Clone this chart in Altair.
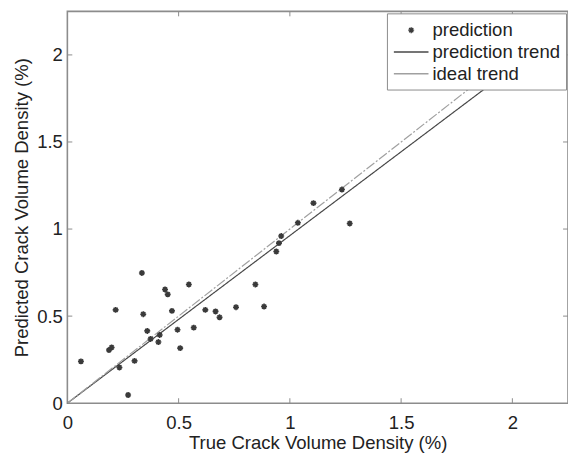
import altair as alt
import pandas as pd

# ---- data ----
true_vals = [0.335, 0.546, 0.439, 0.451, 0.217, 0.341, 0.470, 0.620, 0.666, 0.359,
             0.495, 0.568, 0.374, 0.415, 0.409, 0.199, 0.187, 0.507, 0.061, 0.234,
             0.302, 0.273, 0.939, 0.845, 0.684, 0.758, 0.884, 0.951, 0.961, 1.036,
             1.106, 1.234, 1.269]
pred_vals = [0.748, 0.682, 0.653, 0.625, 0.536, 0.511, 0.530, 0.536, 0.527, 0.415,
             0.422, 0.434, 0.369, 0.392, 0.351, 0.320, 0.305, 0.316, 0.240, 0.205,
             0.243, 0.047, 0.871, 0.682, 0.493, 0.551, 0.555, 0.919, 0.960, 1.036,
             1.149, 1.227, 1.032]
trend_x = [0.0, 2.0]
pred_trend_y = [0.0, 1.925]
ideal_trend_y = [0.0, 2.0]
tick_vals = [0.5, 1.0, 1.5, 2.0]
series_names = ["prediction", "prediction trend", "ideal trend"]
axis_values = [0, 0.5, 1, 1.5, 2]

FONT = "Liberation Sans"
FS = 18.7
W, H = 506, 396
# symbol unit = 10 px (symbolSize 400)
ASTERISK = ("M-0.3,0L0.3,0M0,-0.3L0,0.3M-0.21,-0.21L0.21,0.21"
            "M-0.21,0.21L0.21,-0.21")
LEG_LINE = "M-1.75,0L1.75,0"

pts = pd.DataFrame({"x": true_vals, "y": pred_vals, "series": series_names[0]})
lines = pd.DataFrame({
    "x": trend_x + trend_x,
    "y": pred_trend_y + ideal_trend_y,
    "series": [series_names[1]] * 2 + [series_names[2]] * 2,
})
ticks = pd.DataFrame({"x": tick_vals, "y": tick_vals})

xs = alt.Scale(domain=[0, 2.25], nice=False, zero=False)
ys = alt.Scale(domain=[0, 2.25], nice=False, zero=False)
color_scale = alt.Scale(domain=series_names, range=["#3a3a3a", "#474747", "#a0a0a0"])
shape_scale = alt.Scale(domain=series_names, range=[ASTERISK, LEG_LINE, LEG_LINE])

x_axis = alt.Axis(values=axis_values, format="~g", title="True Crack Volume Density (%)")
y_axis = alt.Axis(values=axis_values, format="~g", title="Predicted Crack Volume Density (%)")

leg = alt.Legend(title=None, orient="none", legendX=323, legendY=2)

trend = alt.Chart(lines).mark_line(strokeWidth=1.2).encode(
    x=alt.X("x:Q", scale=xs, axis=x_axis),
    y=alt.Y("y:Q", scale=ys, axis=y_axis),
    color=alt.Color("series:N", scale=color_scale, legend=leg),
    strokeDash=alt.StrokeDash("series:N",
                              scale=alt.Scale(domain=series_names[1:], range=[[1, 0], [10, 2, 2, 2]]),
                              legend=None),
    detail="series:N",
)

points = alt.Chart(pts).mark_point(size=400, strokeWidth=1.6, filled=False, opacity=1).encode(
    x=alt.X("x:Q", scale=xs),
    y=alt.Y("y:Q", scale=ys),
    color=alt.Color("series:N", scale=color_scale, legend=leg),
    shape=alt.Shape("series:N", scale=shape_scale, legend=leg),
)

tick_color = "#8c8c8c"
tb = alt.Chart(ticks).mark_rule(color=tick_color, strokeWidth=1).encode(
    x=alt.X("x:Q", scale=xs), y=alt.value(H), y2=alt.value(H - 5))
tt = alt.Chart(ticks).mark_rule(color=tick_color, strokeWidth=1).encode(
    x=alt.X("x:Q", scale=xs), y=alt.value(0), y2=alt.value(5))
tl = alt.Chart(ticks).mark_rule(color=tick_color, strokeWidth=1).encode(
    y=alt.Y("y:Q", scale=ys), x=alt.value(0), x2=alt.value(5))
tr = alt.Chart(ticks).mark_rule(color=tick_color, strokeWidth=1).encode(
    y=alt.Y("y:Q", scale=ys), x=alt.value(W), x2=alt.value(W - 5))

chart = alt.layer(tb, tt, tl, tr, trend, points).properties(
    width=W, height=H,
    autosize=alt.AutoSizeParams(type="none"),
    padding={"left": 60, "top": 1, "right": 0, "bottom": 54},
).configure_view(
    stroke="#8c8c8c", strokeWidth=1.6
).configure_axis(
    domain=False, ticks=False, grid=False, labelFlush=False,
    labelFont=FONT, labelFontSize=FS, labelColor="#222222",
    titleFont=FONT, titleFontSize=FS, titleColor="#222222", titleFontWeight="normal",
).configure_axisX(
    labelPadding=11, titlePadding=1,
).configure_axisY(
    labelPadding=5, titlePadding=5,
).configure_legend(
    strokeColor="#8c8c8c", fillColor="white", padding=6, cornerRadius=0,
    labelFont=FONT, labelFontSize=FS, labelColor="#222222", labelOffset=10.5,
    symbolSize=400, symbolOffset=7.5, symbolStrokeWidth=1.4, rowPadding=1,
)

chart.save("out.html", embed_options={"renderer": "svg", "actions": False})
